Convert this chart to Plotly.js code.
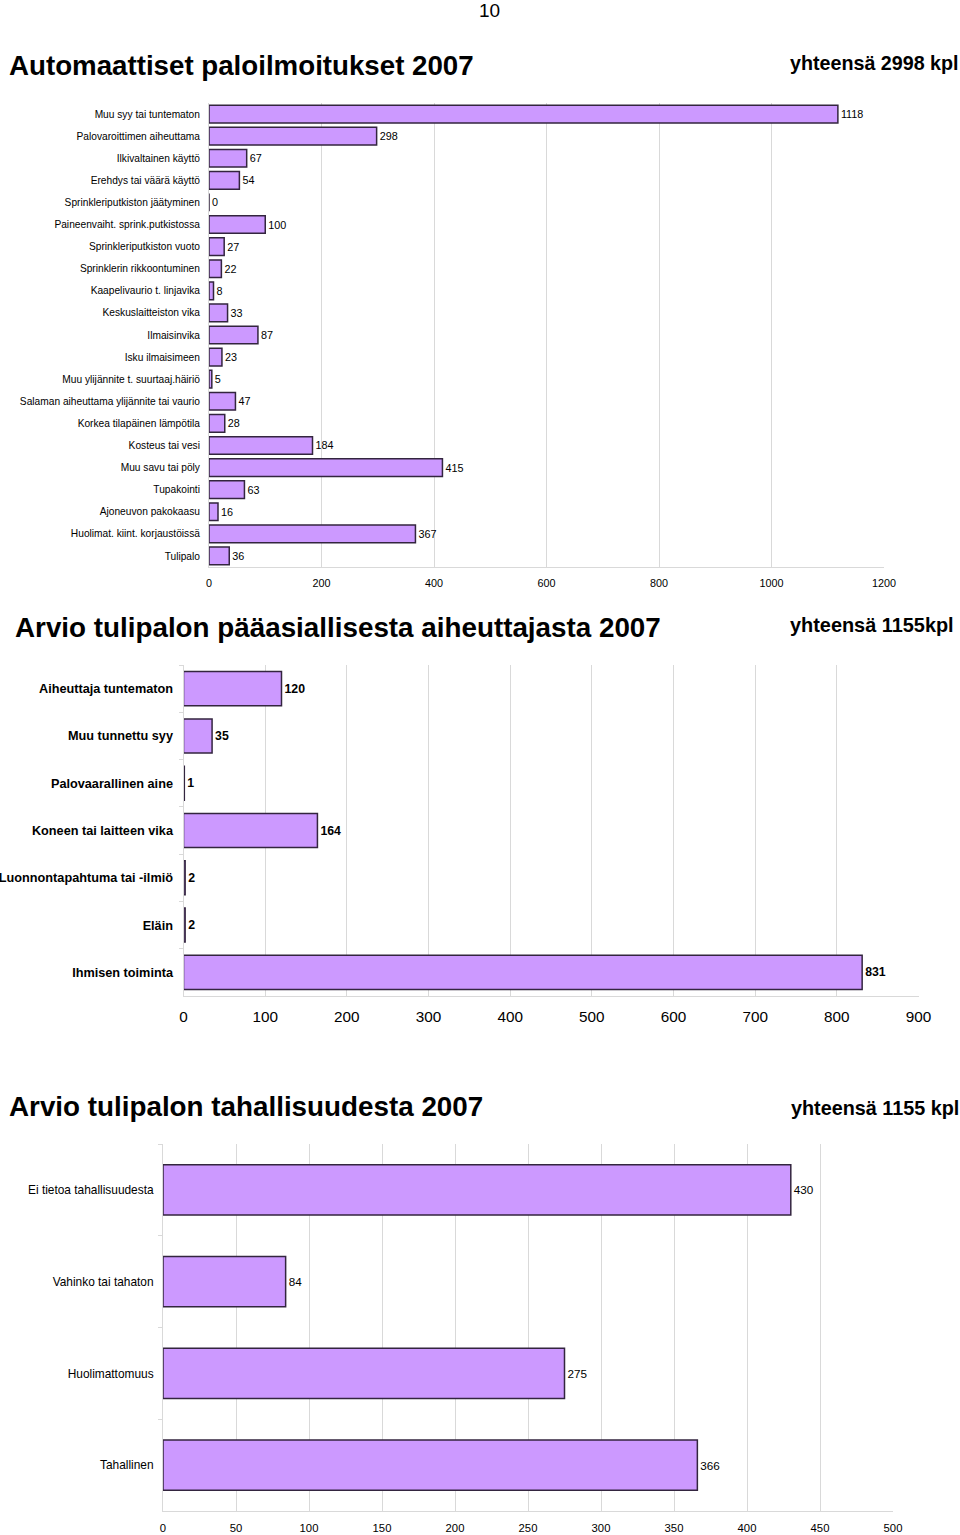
<!DOCTYPE html>
<html>
<head>
<meta charset="utf-8">
<script src="https://cdn.plot.ly/plotly-3.0.1.min.js"></script>
<style>
html,body{margin:0;padding:0;background:#fff;}
#chart{width:960px;height:1535px;}
</style>
</head>
<body>
<div id="chart"></div>
<script>
// ---- Chart 1 data ----
const alarmCategories = [
  "Muu syy tai tuntematon",
  "Palovaroittimen aiheuttama",
  "Ilkivaltainen käyttö",
  "Erehdys tai väärä käyttö",
  "Sprinkleriputkiston jäätyminen",
  "Paineenvaiht. sprink.putkistossa",
  "Sprinkleriputkiston vuoto",
  "Sprinklerin rikkoontuminen",
  "Kaapelivaurio t. linjavika",
  "Keskuslaitteiston vika",
  "Ilmaisinvika",
  "Isku ilmaisimeen",
  "Muu ylijännite t. suurtaaj.häiriö",
  "Salaman aiheuttama ylijännite tai vaurio",
  "Korkea tilapäinen lämpötila",
  "Kosteus tai vesi",
  "Muu savu tai pöly",
  "Tupakointi",
  "Ajoneuvon pakokaasu",
  "Huolimat. kiint. korjaustöissä",
  "Tulipalo"
];
const alarmValues = [1118, 298, 67, 54, 0, 100, 27, 22, 8, 33, 87, 23, 5, 47, 28, 184, 415, 63, 16, 367, 36];
const alarmTicks = [0, 200, 400, 600, 800, 1000, 1200];

// ---- Chart 2 data ----
const causeCategories = [
  "Aiheuttaja tuntematon",
  "Muu tunnettu syy",
  "Palovaarallinen aine",
  "Koneen tai laitteen vika",
  "Luonnontapahtuma tai -ilmiö",
  "Eläin",
  "Ihmisen toiminta"
];
const causeValues = [120, 35, 1, 164, 2, 2, 831];
const causeTicks = [0, 100, 200, 300, 400, 500, 600, 700, 800, 900];

// ---- Chart 3 data ----
const intentCategories = [
  "Ei tietoa tahallisuudesta",
  "Vahinko tai tahaton",
  "Huolimattomuus",
  "Tahallinen"
];
const intentValues = [430, 84, 275, 366];
const intentTicks = [0, 50, 100, 150, 200, 250, 300, 350, 400, 450, 500];

// ---- Texts ----
const pageNumber = "10";
const title1 = "Automaattiset paloilmoitukset 2007";
const total1 = "yhteensä 2998 kpl";
const title2 = "Arvio tulipalon pääasiallisesta aiheuttajasta 2007";
const total2 = "yhteensä 1155kpl";
const title3 = "Arvio tulipalon tahallisuudesta 2007";
const total3 = "yhteensä 1155 kpl";

const FONT = "Liberation Sans, Arial, Helvetica, sans-serif";
const W = 960, H = 1535;
const px = v => v / W;
const py = v => 1 - v / H;

const barFill = "#cc99ff";
const barLine = "#33253f";
const gridCol = "#d9d9d9";

function barTrace(cats, vals, xa, ya, fontSize, bold, thickness) {
  return {
    type: "bar",
    orientation: "h",
    y: cats,
    x: vals,
    xaxis: xa,
    yaxis: ya,
    width: thickness,
    marker: {color: barFill, line: {color: barLine, width: 1.5}},
    text: vals.map(v => bold ? "<b>" + v + "</b>" : String(v)),
    textposition: "outside",
    constraintext: "none",
    cliponaxis: false,
    textfont: {family: FONT, size: fontSize, color: "#000"},
    hoverinfo: "x+y"
  };
}

const data = [
  barTrace(alarmCategories, alarmValues, "x", "y", 10.8, false, 0.8),
  barTrace(causeCategories, causeValues, "x2", "y2", 12.3, true, 0.72),
  barTrace(intentCategories, intentValues, "x3", "y3", 11.7, false, 0.55)
];

function xAxis(domain, anchor, ticks, size, standoff) {
  return {
    domain: domain, anchor: anchor,
    range: [0, ticks[ticks.length - 1]],
    tickmode: "array", tickvals: ticks, ticktext: ticks.map(String),
    showgrid: true, gridcolor: gridCol, gridwidth: 1,
    zeroline: false, showline: true, linecolor: gridCol, linewidth: 1,
    ticks: "", ticklabelstandoff: standoff,
    tickfont: {family: FONT, size: size, color: "#000"},
    fixedrange: true
  };
}
function yAxis(domain, anchor, size, bold, boundaryTicks, standoff) {
  return {
    domain: domain, anchor: anchor,
    type: "category", autorange: "reversed",
    showgrid: false, zeroline: false,
    showline: true, linecolor: gridCol, linewidth: 1,
    ticks: boundaryTicks ? "outside" : "", tickson: boundaryTicks ? "boundaries" : "labels",
    ticklen: 4, tickcolor: gridCol,
    ticklabelstandoff: standoff,
    tickfont: {family: FONT, size: size, color: "#000", weight: bold ? "bold" : "normal"},
    fixedrange: true
  };
}

function note(text, x, y, xanchor, yanchor, size) {
  return {text: text, xref: "paper", yref: "paper", x: px(x), y: py(y),
          xanchor: xanchor, yanchor: yanchor, showarrow: false,
          font: {family: FONT, size: size, color: "#000"}};
}

const layout = {
  width: W, height: H,
  margin: {l: 0, r: 0, t: 0, b: 0},
  paper_bgcolor: "#fff", plot_bgcolor: "#fff",
  showlegend: false,
  font: {family: FONT, color: "#000"},
  xaxis: xAxis([px(209), px(884)], "y", alarmTicks, 10.8, 6),
  yaxis: yAxis([py(567), py(103)], "x", 10.2, false, false, 6),
  xaxis2: xAxis([px(183.5), px(918.5)], "y2", causeTicks, 15.3, 7),
  yaxis2: yAxis([py(996), py(665)], "x2", 12.7, true, true, 7),
  xaxis3: xAxis([px(163), px(893)], "y3", intentTicks, 11.3, 6),
  yaxis3: yAxis([py(1511), py(1144)], "x3", 11.9, false, true, 6),
  annotations: [
    note(pageNumber, 489, -2, "center", "top", 19),
    note("<b>" + title1 + "</b>", 7, 66, "left", "middle", 27.7),
    note("<b>" + total1 + "</b>", 961, 63, "right", "middle", 19.7),
    note("<b>" + title2 + "</b>", 13, 627, "left", "middle", 27.8),
    note("<b>" + total2 + "</b>", 956, 625, "right", "middle", 19.9),
    note("<b>" + title3 + "</b>", 7, 1106, "left", "middle", 27.8),
    note("<b>" + total3 + "</b>", 961, 1108, "right", "middle", 19.8)
  ]
};

Plotly.newPlot("chart", data, layout, {displayModeBar: false, staticPlot: true});
</script>
</body>
</html>
